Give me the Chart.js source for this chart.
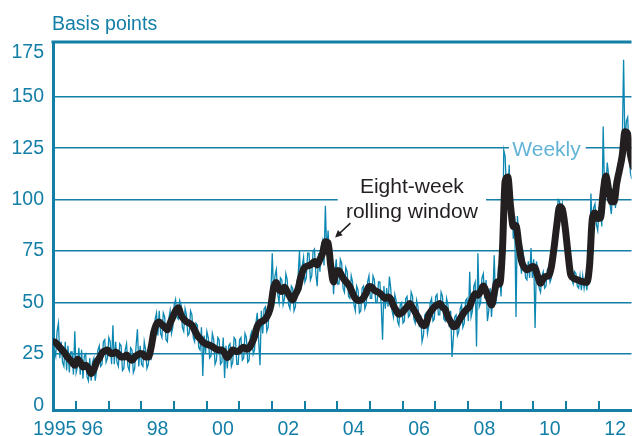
<!DOCTYPE html>
<html>
<head>
<meta charset="utf-8">
<script src="https://cdn.jsdelivr.net/npm/chart.js@4.4.1/dist/chart.umd.min.js"></script>
<style>
  html, body { margin: 0; padding: 0; background: #fff; }
  #wrap { width: 634px; height: 436px; }
</style>
</head>
<body>
<div id="wrap"><canvas id="spreadChart" width="634" height="436"></canvas></div>
<script>
// first observation, as a decimal year (about May 1995)
var startYear = 1995.3;

// eight-week rolling window, one reading per month (basis points)
var rolling = [
  31, 30.5, 29, 27.5, 26, 24, 22.5, 21, 19.5, 22.5,
  21, 18.7, 19.5, 18, 15.5, 17.5, 21, 23, 25.5, 26.5,
  27, 25.5, 25.2, 26, 25, 23.5, 23.5, 24.5, 23, 22,
  23.5, 24.5, 25.2, 25, 23.5, 23.5, 28, 35.5, 39.5, 40.5,
  39.3, 38, 36.8, 40, 43, 46, 47.5, 44, 42, 40.7,
  40, 39, 36.5, 34, 32.5, 30.8, 30, 29.5, 29, 28.2,
  27.3, 27, 27, 25.5, 23.3, 25, 27, 26.3, 26.2, 27.5,
  28.3, 27.3, 28, 30.3, 33.5, 38.5, 40.3, 41, 42, 44.3,
  48.5, 57.3, 59.8, 56.5, 55.4, 57.5, 55.2, 52.8, 51.3, 54,
  56.8, 62.4, 66.3, 67.6, 68, 68.8, 70, 68.3, 71, 74,
  79.5, 79, 67.5, 60, 65.5, 65.5, 63, 61, 59.5, 57.6,
  54.5, 52, 51, 51.2, 52.4, 54.7, 57.8, 57.5, 56, 55.3,
  54.5, 53.2, 52, 52.7, 51.7, 48.5, 46.2, 44.3, 45, 46.4,
  48, 49.5, 47.4, 45.3, 42.8, 40.5, 38.8, 39.8, 44, 46.2,
  47.8, 48.8, 49.5, 47.8, 46.6, 43, 40.7, 38.3, 38.7, 41,
  43.3, 45.4, 46.8, 48.1, 51.8, 54.3, 53.6, 55.5, 58, 55.5,
  51.8, 48.8, 54.5, 60, 59, 75, 109, 111, 96.6, 87,
  87.4, 78.5, 70.3, 67.2, 66, 66.6, 67.5, 66.8, 62.6, 59.4,
  61.6, 62.7, 63, 67.5, 77, 88, 96.5, 95.3, 87, 75,
  64, 62, 61.3, 60.8, 60.3, 60, 59.8, 68, 90.5, 93.5,
  90.8, 91, 103.5, 111.5, 105, 99, 99, 108.2, 114.5, 121.5,
  133, 132, 121.8, 116
];

// weekly readings, two per month (basis points)
var weekly = [
  34, 27, 24, 36, 40, 23, 31, 21, 19, 31, 17, 29, 16, 26, 26, 15, 36, 16, 19, 28,
  15, 27, 13, 24, 25, 14, 12, 23, 12, 21, 23, 12, 17, 27, 29, 19, 20, 31, 32, 21,
  23, 33, 31, 20, 39, 20, 31, 21, 19, 30, 29, 17, 18, 27, 30, 19, 17, 28, 27, 16,
  18, 29, 37, 19, 29, 20, 19, 31, 27, 18, 20, 27, 22, 34, 32, 42, 45, 34, 46, 35,
  33, 45, 43, 32, 31, 42, 46, 35, 38, 49, 51.5, 43, 42, 51, 49, 38, 36, 47, 44, 34,
  35, 46, 44, 33, 31, 40, 39, 28, 27, 38, 14.3, 34, 25, 36, 33, 23, 24, 35, 32, 20,
  22, 33, 32, 20, 21, 33, 13.4, 29, 18, 29, 30, 19, 21, 33, 32, 20, 20, 32, 33, 22,
  23, 35, 33, 21, 22, 34, 36, 25, 27, 40, 45, 32, 19.6, 46, 35, 47, 48, 36, 38, 51,
  55, 74, 54, 63, 66, 54, 50, 62, 61, 49, 52, 64, 61, 49, 47, 58, 57, 46, 48, 60,
  63, 75, 56, 68, 72, 60, 62, 74, 74, 61, 63, 75, 76, 64, 58, 74, 65, 77, 80, 68,
  97, 74, 85, 72, 61, 71, 54, 65, 71, 59, 59, 71, 69, 57, 55, 67, 65, 53, 52, 63,
  60, 49, 46, 58, 56, 45, 46, 57, 58, 47, 49, 60, 63, 52, 52, 63, 61, 50, 50, 60,
  60, 49, 32, 58, 47, 57, 48, 62.6, 57, 46, 43, 54, 51, 41, 39, 49, 50, 40, 41, 52,
  53, 43, 44, 55, 53, 42, 40, 51, 48, 38, 44, 31, 34, 44, 45, 35, 39, 50, 52, 41,
  42, 53, 54, 44, 44, 55, 53, 42, 41, 52, 49, 38, 46, 23.5, 33, 43, 44, 34, 36, 47,
  49, 38, 40, 51, 52, 41, 65, 43, 46, 58, 60, 28.6, 74, 48, 50, 62, 64, 52, 61, 41,
  46, 57, 43, 54, 73, 49, 54, 66, 64, 53, 68, 124, 121, 104, 101, 117, 90, 102, 81, 92,
  43, 92, 84, 72, 64, 75, 71, 62, 61, 70, 62, 76.5, 62, 71, 37.6, 70, 66, 57, 55, 63,
  65, 57, 58, 66, 67, 60, 62, 73, 71, 85, 94, 100, 99, 93, 98, 91, 92, 81, 81, 68,
  67, 61, 59, 65, 64, 58, 57, 63, 56, 63, 57, 62, 56, 64, 62, 103, 86, 96, 98, 88,
  85, 96, 97, 87, 135.5, 105, 106, 118, 112, 98, 93, 105, 106, 96, 102, 115, 108, 121, 126, 168,
  125, 138, 140, 124, 113, 110, 110, 108
];

// year boundaries, marked on the x axis
var tickYears = [1996, 1997, 1998, 1999, 2000, 2001, 2002, 2003, 2004,
                 2005, 2006, 2007, 2008, 2009, 2010, 2011, 2012];

// year labels and where they sit (mid-year; 1995 sits at the start of the data)
var labelAt = [1995.35, 1996.5, 1998.5, 2000.5, 2002.5, 2004.5, 2006.5, 2008.5, 2010.5, 2012.5];
var labelText = ['1995', '96', '98', '00', '02', '04', '06', '08', '10', '12'];

var yTicks = [0, 25, 50, 75, 100, 125, 150, 175];

var teal = '#137ea6';
var lineTeal = '#0b87b2';
var lightTeal = '#62b4d7';
var ink = '#231f20';
var fontFamily = '"Liberation Sans", Arial, Helvetica, sans-serif';

var rollingPoints = rolling.map(function (v, i) { return { x: startYear + i / 12, y: v }; });
var weeklyPoints = weekly.map(function (v, i) { return { x: startYear + i / 24, y: v }; });

// frame, year ticks and the two text notes
var decorations = {
    id: 'decorations',
    beforeDatasetsDraw: function (chart) {
        var ctx = chart.ctx, a = chart.chartArea;
        var xs = chart.scales.x, ys = chart.scales.y;
        ctx.save();
        ctx.strokeStyle = teal;
        ctx.lineWidth = 3;
        ctx.beginPath();
        ctx.moveTo(a.left - 1.5, a.top);
        ctx.lineTo(a.right, a.top);
        ctx.stroke();

        ctx.lineWidth = 2;
        tickYears.forEach(function (yr) {
            var px = Math.round(xs.getPixelForValue(yr));
            ctx.beginPath();
            ctx.moveTo(px, a.bottom);
            ctx.lineTo(px, a.bottom - 9);
            ctx.stroke();
        });

        // white patches so gridlines stop at the notes
        ctx.fillStyle = '#fff';
        var x1 = xs.getPixelForValue(2004.01), x2 = xs.getPixelForValue(2008.55);
        var y1 = ys.getPixelForValue(114.5), y2 = ys.getPixelForValue(86.5);
        ctx.fillRect(x1, y1, x2 - x1, y2 - y1);
        x1 = xs.getPixelForValue(2009.25); x2 = xs.getPixelForValue(2011.6);
        y1 = ys.getPixelForValue(130); y2 = ys.getPixelForValue(120);
        ctx.fillRect(x1, y1, x2 - x1, y2 - y1);
        ctx.restore();
    },
    afterDatasetsDraw: function (chart) {
        var ctx = chart.ctx, a = chart.chartArea;
        var xs = chart.scales.x, ys = chart.scales.y;
        ctx.save();
        ctx.textBaseline = 'alphabetic';

        ctx.font = '19.5px ' + fontFamily;
        ctx.fillStyle = teal;
        ctx.textAlign = 'left';
        ctx.fillText('Basis points', a.left - 1, 30);

        // top tick label sits a little below its line in the original
        ctx.textAlign = 'right';
        ctx.textBaseline = 'middle';
        ctx.fillText('175', a.left - 9, ys.getPixelForValue(175) + 7);
        ctx.textBaseline = 'alphabetic';

        ctx.font = '21px ' + fontFamily;
        ctx.textAlign = 'center';
        ctx.fillStyle = lightTeal;
        ctx.fillText('Weekly', xs.getPixelForValue(2010.4), ys.getPixelForValue(125) + 8);

        ctx.fillStyle = ink;
        var cx = xs.getPixelForValue(2006.28);
        ctx.fillText('Eight-week', cx, ys.getPixelForValue(103.2));
        ctx.fillText('rolling window', cx, ys.getPixelForValue(91.1));

        // arrow to the 2003 peak
        var tx = xs.getPixelForValue(2004.4), ty = ys.getPixelForValue(88.6);
        var hx = xs.getPixelForValue(2003.93), hy = ys.getPixelForValue(81.6);
        var ang = Math.atan2(hy - ty, hx - tx);
        ctx.strokeStyle = ink;
        ctx.lineWidth = 1.5;
        ctx.beginPath();
        ctx.moveTo(tx, ty);
        ctx.lineTo(hx - 5 * Math.cos(ang), hy - 5 * Math.sin(ang));
        ctx.stroke();
        ctx.beginPath();
        ctx.moveTo(hx, hy);
        ctx.lineTo(hx - 8 * Math.cos(ang - 0.45), hy - 8 * Math.sin(ang - 0.45));
        ctx.lineTo(hx - 8 * Math.cos(ang + 0.45), hy - 8 * Math.sin(ang + 0.45));
        ctx.closePath();
        ctx.fillStyle = ink;
        ctx.fill();
        ctx.restore();
    }
};

var chartCanvas = document.getElementById('spreadChart');

var spreadChart = new Chart(chartCanvas, {
    type: 'line',
    data: {
        datasets: [
            {
                label: 'Eight-week rolling window',
                data: rollingPoints,
                borderColor: ink,
                borderWidth: 7,
                borderJoinStyle: 'round',
                borderCapStyle: 'round',
                cubicInterpolationMode: 'monotone',
                pointRadius: 0,
                order: 0
            },
            {
                label: 'Weekly',
                data: weeklyPoints,
                borderColor: lineTeal,
                borderWidth: 1.3,
                pointRadius: 0,
                order: 1
            }
        ]
    },
    options: {
        responsive: false,
        animation: false,
        devicePixelRatio: 1,
        layout: { padding: { top: 42, right: 0, left: 0, bottom: 0 } },
        plugins: {
            legend: { display: false },
            tooltip: { enabled: false },
            title: { display: false }
        },
        scales: {
            x: {
                type: 'linear',
                min: 1995.3,
                max: 2013.0,
                afterFit: function (s) { s.height = 26; },
                afterBuildTicks: function (s) {
                    s.ticks = labelAt.map(function (v) { return { value: v }; });
                },
                grid: { display: true, drawOnChartArea: false, drawTicks: false },
                border: { display: true, color: teal, width: 3 },
                ticks: {
                    autoSkip: false,
                    maxRotation: 0,
                    padding: 8,
                    color: teal,
                    font: { family: fontFamily, size: 19.5 },
                    callback: function (value) {
                        var k = labelAt.indexOf(value);
                        return k >= 0 ? labelText[k] : '';
                    }
                }
            },
            y: {
                min: -2.2,
                max: 176.6,
                afterFit: function (s) { s.width = 53; },
                afterBuildTicks: function (s) {
                    s.ticks = yTicks.map(function (v) { return { value: v }; });
                },
                grid: {
                    drawTicks: false,
                    lineWidth: 1.6,
                    color: function (c) {
                        return (c.tick && c.tick.value > 0 && c.tick.value < 175) ? teal : 'rgba(0,0,0,0)';
                    }
                },
                border: { display: true, color: teal, width: 3 },
                ticks: {
                    padding: 9,
                    color: teal,
                    font: { family: fontFamily, size: 19.5 },
                    callback: function (value) {
                        return value === 175 ? '' : value;
                    }
                }
            }
        }
    },
    plugins: [decorations]
});
</script>
</body>
</html>
